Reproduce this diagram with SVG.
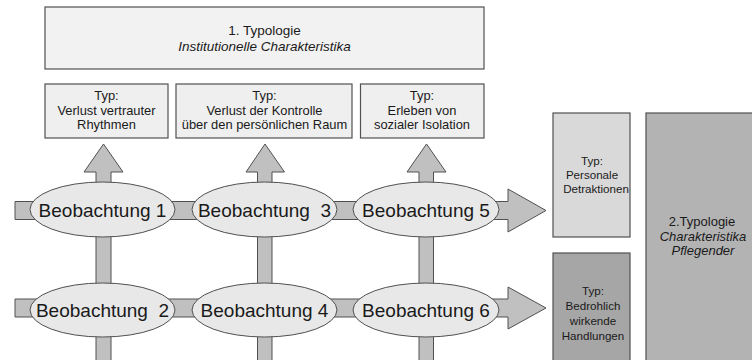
<svg xmlns="http://www.w3.org/2000/svg" width="752" height="360" viewBox="0 0 752 360">
<style>
text{font-family:"Liberation Sans",Arial,sans-serif;fill:#1a1a1a;text-anchor:middle}
.box{stroke:#505050;stroke-width:1.2}
.arr{fill:#c0c0c0;stroke:#505050;stroke-width:1}
.ell{fill:#e8e8e8;stroke:#505050;stroke-width:1}
.obs{font-size:19px}
.t{font-size:12.9px}
.s{font-size:11.6px}
.i{font-style:italic}
</style>
<rect width="752" height="360" fill="#ffffff"/>
<g id="connectors">
<polygon class="arr" points="96,365 96,172 84,172 103.5,144 123,172 111,172 111,365"/>
<polygon class="arr" points="257.5,365 257.5,172 246,172 265,144 284.5,172 272,172 272,365"/>
<polygon class="arr" points="419,365 419,172 407,172 426.5,144 446,172 433.5,172 433.5,365"/>
<polygon class="arr" points="15,201.5 508,201.5 508,189 546,210.5 508,232 508,219.5 15,219.5"/>
<polygon class="arr" points="15,299 508,299 508,287 546,308 508,329 508,317 15,317"/>
</g>
<g id="typologie1">
<rect class="box" x="45" y="7" width="439" height="62" fill="#f2f2f2"/>
<text x="264.5" y="35" style="font-size:13.5px">1. Typologie</text>
<text x="264.5" y="51" class="i" style="font-size:13.5px">Institutionelle Charakteristika</text>
</g>
<g id="typ-rhythmen">
<rect class="box" x="45" y="84" width="123" height="54" fill="#efefef"/>
<text x="106.5" y="100" class="t">Typ:</text>
<text x="106.5" y="114.5" class="t">Verlust vertrauter</text>
<text x="106.5" y="129" class="t">Rhythmen</text>
</g>
<g id="typ-kontrolle">
<rect class="box" x="176" y="84" width="176" height="54" fill="#efefef"/>
<text x="264.5" y="100" class="t">Typ:</text>
<text x="264.5" y="114.5" class="t">Verlust der Kontrolle</text>
<text x="264.5" y="129" class="t">über den persönlichen Raum</text>
</g>
<g id="typ-isolation">
<rect class="box" x="360.5" y="84" width="123.5" height="54" fill="#efefef"/>
<text x="422" y="100" class="t">Typ:</text>
<text x="422" y="114.5" class="t">Erleben von</text>
<text x="422" y="129" class="t">sozialer Isolation</text>
</g>
<g id="beobachtung1">
<ellipse class="ell" cx="102.5" cy="209.5" rx="72.5" ry="27.5"/>
<text x="102.5" y="216.5" class="obs">Beobachtung 1</text>
</g>
<g id="beobachtung3">
<ellipse class="ell" cx="264.5" cy="209.5" rx="72.5" ry="27.5"/>
<text x="264.5" y="216.5" class="obs" xml:space="preserve">Beobachtung  3</text>
</g>
<g id="beobachtung5">
<ellipse class="ell" cx="426" cy="209.5" rx="73" ry="27.5"/>
<text x="426" y="216.5" class="obs">Beobachtung 5</text>
</g>
<g id="beobachtung2">
<ellipse class="ell" cx="102.5" cy="310" rx="72.5" ry="27"/>
<text x="102.5" y="317" class="obs" xml:space="preserve">Beobachtung  2</text>
</g>
<g id="beobachtung4">
<ellipse class="ell" cx="264.5" cy="310" rx="72.5" ry="27"/>
<text x="264.5" y="317" class="obs">Beobachtung 4</text>
</g>
<g id="beobachtung6">
<ellipse class="ell" cx="426" cy="310" rx="73" ry="27"/>
<text x="426" y="317" class="obs">Beobachtung 6</text>
</g>
<g id="typ-detraktionen">
<rect class="box" x="553" y="113" width="77" height="124" fill="#d9d9d9"/>
<text x="592" y="165" class="s">Typ:</text>
<text x="592" y="179" class="s">Personale</text>
<text x="596" y="193" class="s">Detraktionen</text>
</g>
<g id="typ-handlungen">
<rect class="box" x="553" y="253" width="77" height="115" fill="#a6a6a6"/>
<text x="593" y="295" class="s">Typ:</text>
<text x="593" y="310" class="s">Bedrohlich</text>
<text x="593" y="325" class="s">wirkende</text>
<text x="593" y="340" class="s">Handlungen</text>
</g>
<g id="typologie2">
<rect class="box" x="646" y="113" width="115" height="255" fill="#b3b3b3"/>
<text x="702" y="226" style="font-size:13px">2.Typologie</text>
<text x="703" y="240.5" class="i" style="font-size:13px">Charakteristika</text>
<text x="703" y="255" class="i" style="font-size:13px">Pflegender</text>
</g>
</svg>
